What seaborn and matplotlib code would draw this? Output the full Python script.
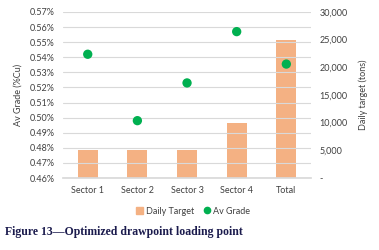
import matplotlib
matplotlib.use("Agg")
import numpy as np
import pandas as pd
import seaborn as sns
import matplotlib.pyplot as plt
from matplotlib.ticker import FuncFormatter, MultipleLocator
from matplotlib.lines import Line2D
from matplotlib.patches import Patch

sectors = ["Sector 1", "Sector 2", "Sector 3", "Sector 4", "Total"]
daily_target = [5000, 5000, 5000, 10000, 25000]
av_grade = [0.542, 0.498, 0.523, 0.557, 0.5355]

BAR_COLOR = "#F4B183"
DOT_COLOR = "#00B050"
TEXT_COLOR = "#404040"

sns.set_theme(style="white")
plt.rcParams["font.family"] = ["Lato", "DejaVu Sans"]

df = pd.DataFrame({"sector": sectors, "target": daily_target, "grade": av_grade})

fig = plt.figure(figsize=(3.79, 2.5), dpi=100)
ax = fig.add_axes([0.166, 0.288, 0.655, 0.664])
ax2 = ax.twinx()

# bars on the right axis, dots on the left axis drawn on top
sns.barplot(data=df, x="sector", y="target", color=BAR_COLOR, width=0.4,
            saturation=1, linewidth=0, edgecolor="none", ax=ax2)
sns.scatterplot(data=df, x="sector", y="grade", color=DOT_COLOR, s=45,
                edgecolor="none", ax=ax, zorder=5)
ax.set_zorder(ax2.get_zorder() + 1)
ax.patch.set_visible(False)

ax.set_xlim(-0.5, 4.5)
ax.set_ylim(0.46, 0.57)
ax.yaxis.set_major_locator(MultipleLocator(0.01))
ax.yaxis.set_major_formatter(FuncFormatter(lambda v, p: f"{v:.2f}%"))
ax.grid(axis="y", color="#D9D9D9", linewidth=0.8)
ax.set_axisbelow(True)

ax2.set_ylim(0, 30000)
ax2.yaxis.set_major_locator(MultipleLocator(5000))
ax2.yaxis.set_major_formatter(FuncFormatter(lambda v, p: "-" if v == 0 else f"{v:,.0f}"))

for a in (ax, ax2):
    for s in a.spines.values():
        s.set_visible(False)
    a.tick_params(length=0, labelsize=6.5, colors=TEXT_COLOR, pad=6)
ax.spines["bottom"].set_visible(True)
ax.spines["bottom"].set_color("#D9D9D9")

ax.set_xlabel("")
ax2.set_xlabel("")
ax.set_ylabel("Av Grade (%Cu)", fontsize=6.5, color=TEXT_COLOR, labelpad=5)
ax2.set_ylabel("Daily target (tons)", fontsize=6.5, color=TEXT_COLOR, labelpad=8)

handles = [Patch(color=BAR_COLOR, label="Daily Target"),
           Line2D([], [], marker="o", linestyle="", color=DOT_COLOR, markersize=4.5, label="Av Grade")]
fig.legend(handles=handles, loc="center", bbox_to_anchor=(0.51, 0.156), ncol=2,
           frameon=False, fontsize=6.5, handlelength=0.8, handletextpad=0.3,
           columnspacing=1.0, labelcolor=TEXT_COLOR)

fig.text(0.012, 0.072, "Figure 13\u2014Optimized drawpoint loading point",
         family=["Liberation Serif", "DejaVu Serif"], fontweight="bold",
         fontsize=8.5, color="#1B1B4D", va="center")

fig.savefig("out.png", dpi=100)
